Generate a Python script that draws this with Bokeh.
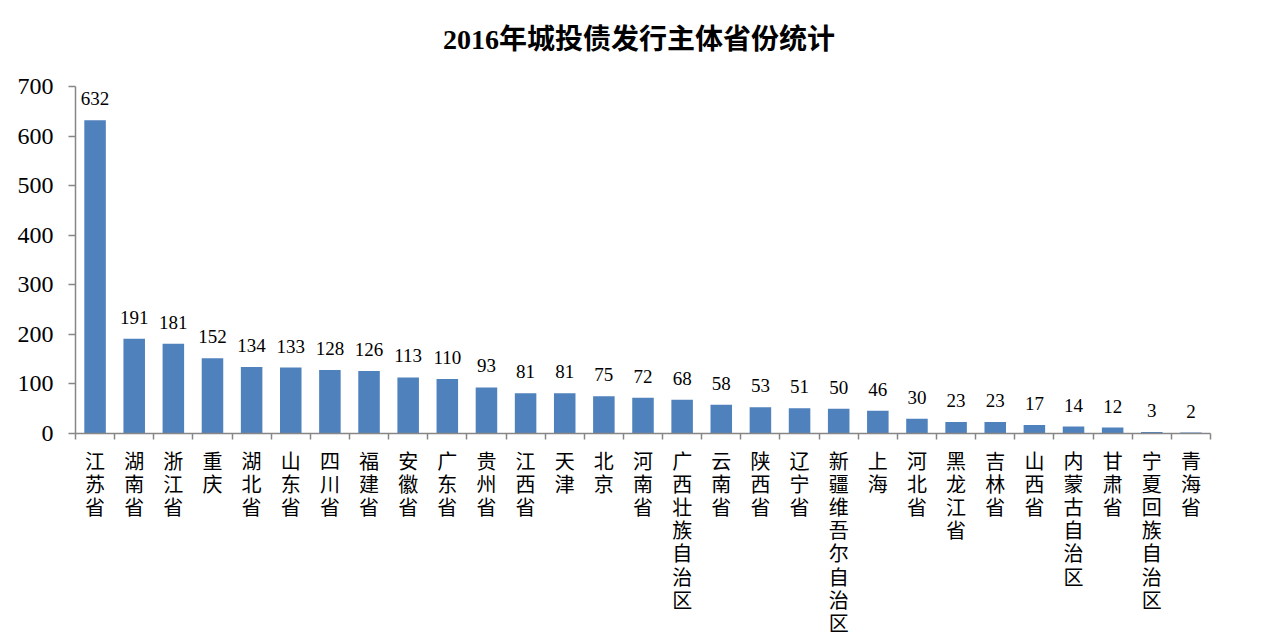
from bokeh.plotting import figure
from bokeh.models import FixedTicker, SingleIntervalTicker, Range1d, Label
from bokeh.core.properties import value
from bokeh.embed import file_html
from bokeh.resources import INLINE

provinces = ["江苏省", "湖南省", "浙江省", "重庆", "湖北省", "山东省", "四川省", "福建省",
             "安徽省", "广东省", "贵州省", "江西省", "天津", "北京", "河南省", "广西壮族自治区",
             "云南省", "陕西省", "辽宁省", "新疆维吾尔自治区", "上海", "河北省", "黑龙江省",
             "吉林省", "山西省", "内蒙古自治区", "甘肃省", "宁夏回族自治区", "青海省"]
counts = [632, 191, 181, 152, 134, 133, 128, 126, 113, 110, 93, 81, 81, 75, 72, 68,
          58, 53, 51, 50, 46, 30, 23, 23, 17, 14, 12, 3, 2]
y_ticks_interval = 100
y_axis_max = 700
title_text = "2016年城投债发行主体省份统计"

n = len(provinces)
xs = list(range(n))

# frame extends above the axis top so the title can sit inside it
frame_px = 644 - 10 - 211
axis_px = 347
y_end = y_axis_max * frame_px / axis_px

p = figure(width=1280, height=644, output_backend="svg", toolbar_location=None,
           x_range=Range1d(-0.5, n - 0.5), y_range=Range1d(0, y_end),
           min_border_left=75, min_border_right=70, min_border_top=10, min_border_bottom=211)

p.outline_line_color = None
p.xgrid.grid_line_color = None
p.ygrid.grid_line_color = None
p.background_fill_color = "white"
p.border_fill_color = "white"

title = Label(x=(n - 1) / 2, y=y_axis_max * 394.5 / axis_px, text=title_text, x_offset=-4,
              text_align="center", text_baseline="middle",
              text_font="Liberation Serif, Noto Sans CJK SC", text_font_size="28px",
              text_font_style="bold", text_color="black")
p.add_layout(title)

p.vbar(x=xs, top=counts, width=0.55, color="#4F81BD", line_color=None)
p.text(x=xs, y=counts, text=[str(c) for c in counts], text_align="center",
       text_baseline="bottom", y_offset=-15, text_font=value("Liberation Serif"),
       text_font_size="19px", text_color="black")

axis_color = "#868686"
xa = p.xaxis[0]
xa.ticker = FixedTicker(ticks=xs, minor_ticks=[i - 0.5 for i in range(n + 1)])
xa.major_label_overrides = {i: "\n".join(list(name)) for i, name in enumerate(provinces)}
xa.major_tick_line_color = None
xa.major_tick_in = 0
xa.major_tick_out = 6
xa.minor_tick_line_color = axis_color
xa.minor_tick_line_width = 1.5
xa.minor_tick_in = 0
xa.minor_tick_out = 6
xa.axis_line_color = axis_color
xa.axis_line_width = 1.5
xa.major_label_text_font = "Noto Sans CJK SC"
xa.major_label_text_font_size = "20px"
xa.major_label_text_line_height = 0.8
xa.major_label_text_color = "black"
xa.major_label_standoff = 6

ya = p.yaxis[0]
ya.ticker = SingleIntervalTicker(interval=y_ticks_interval)
ya.bounds = (0, y_axis_max)
ya.minor_tick_line_color = None
ya.major_tick_in = 0
ya.major_tick_out = 7
ya.major_tick_line_color = axis_color
ya.major_tick_line_width = 1.5
ya.axis_line_color = axis_color
ya.axis_line_width = 1.5
ya.major_label_text_font = "Liberation Serif"
ya.major_label_text_font_size = "24px"
ya.major_label_text_color = "black"
ya.major_label_standoff = 15

open("out.html", "w").write(file_html(p, INLINE))
